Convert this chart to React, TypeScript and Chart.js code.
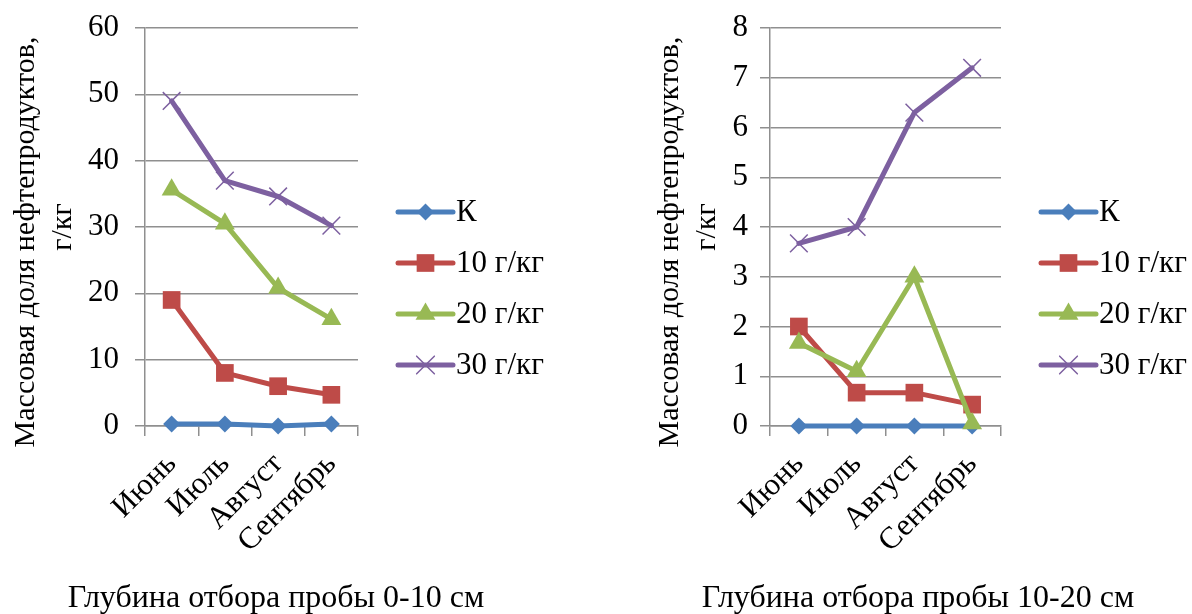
import React, { useEffect, useRef } from 'react';
import { Chart, registerables } from 'chart.js';

Chart.register(...registerables);

// ---- data ----
const months = ['Июнь', 'Июль', 'Август', 'Сентябрь'];
const seriesNames = ['К', '10 г/кг', '20 г/кг', '30 г/кг'];

const shallowK = [0.3, 0.3, 0, 0.3];
const shallow10 = [19, 8, 6, 4.7];
const shallow20 = [35.6, 30.5, 20.8, 16.1];
const shallow30 = [49, 37, 34.6, 30.2];

const deepK = [0, 0, 0, 0];
const deep10 = [2.0, 0.67, 0.67, 0.43];
const deep20 = [1.67, 1.1, 3.0, 0.05];
const deep30 = [3.67, 4.0, 6.3, 7.2];

const shallowMax = 60;
const shallowStep = 10;
const deepMax = 8;
const deepStep = 1;

const yTitleLines = ['Массовая доля нефтепродуктов,', 'г/кг'];
const shallowTitle = 'Глубина отбора пробы 0-10 см';
const deepTitle = 'Глубина отбора пробы 10-20 см';

// ---- styles ----
const COLORS = ['#4A7EBB', '#BE4B48', '#98B954', '#7D60A0'];
const MARKERS = ['rectRot', 'rect', 'triangle', 'crossRot'];
const RADII = [8.5, 12.5, 11.5, 12.5];
const FONT_FAMILY = "'Liberation Serif', 'Times New Roman', serif";
const FONT_SIZE = 31;
const GRID = '#8f8f8f';

function drawMarker(ctx: CanvasRenderingContext2D, style: string, x: number, y: number, r: number, color: string) {
  ctx.save();
  ctx.fillStyle = color;
  ctx.strokeStyle = color;
  ctx.beginPath();
  if (style === 'rectRot') {
    ctx.moveTo(x, y - r);
    ctx.lineTo(x + r, y);
    ctx.lineTo(x, y + r);
    ctx.lineTo(x - r, y);
    ctx.closePath();
    ctx.fill();
  } else if (style === 'rect') {
    const s = r * Math.SQRT1_2;
    ctx.rect(x - s, y - s, 2 * s, 2 * s);
    ctx.fill();
  } else if (style === 'triangle') {
    const c = Math.cos(Math.PI / 6) * r;
    ctx.moveTo(x, y - r);
    ctx.lineTo(x + c, y + r / 2);
    ctx.lineTo(x - c, y + r / 2);
    ctx.closePath();
    ctx.fill();
  } else {
    const c = r * Math.SQRT1_2;
    ctx.lineWidth = 1.5;
    ctx.moveTo(x - c, y - c);
    ctx.lineTo(x + c, y + c);
    ctx.moveTo(x + c, y - c);
    ctx.lineTo(x - c, y + c);
    ctx.stroke();
  }
  ctx.restore();
}

// legend at the right, rotated y-axis title and caption below
const decor = {
  id: 'decor',
  afterDraw(chart: any, _args: any, opts: any) {
    const { ctx, chartArea, width } = chart;
    // legend
    const x1 = chartArea.right + 40;
    const x2 = chartArea.right + 95;
    chart.data.datasets.forEach((ds: any, i: number) => {
      const y = chartArea.top + 184 + i * 51;
      ctx.save();
      ctx.strokeStyle = COLORS[i];
      ctx.lineWidth = 5;
      ctx.lineCap = 'round';
      ctx.beginPath();
      ctx.moveTo(x1, y);
      ctx.lineTo(x2, y);
      ctx.stroke();
      drawMarker(ctx, MARKERS[i], (x1 + x2) / 2, y, RADII[i], COLORS[i]);
      ctx.fillStyle = '#000';
      ctx.font = `${FONT_SIZE}px ${FONT_FAMILY}`;
      ctx.textBaseline = 'middle';
      ctx.textAlign = 'left';
      ctx.fillText(ds.label, chartArea.right + 98, y + 1);
      ctx.restore();
    });
    // y-axis title (two rotated lines)
    ctx.save();
    ctx.fillStyle = '#000';
    ctx.font = `30px ${FONT_FAMILY}`;
    ctx.textAlign = 'center';
    ctx.textBaseline = 'alphabetic';
    const mid = (chartArea.top + chartArea.bottom) / 2;
    ctx.save();
    ctx.translate(34, mid + 15);
    ctx.rotate(-Math.PI / 2);
    ctx.fillText(yTitleLines[0], 0, 0);
    ctx.restore();
    ctx.save();
    ctx.translate(71, mid);
    ctx.rotate(-Math.PI / 2);
    ctx.fillText(yTitleLines[1], 0, 0);
    ctx.restore();
    ctx.restore();
    // caption
    ctx.save();
    ctx.fillStyle = '#000';
    ctx.font = `32px ${FONT_FAMILY}`;
    ctx.textAlign = 'center';
    ctx.textBaseline = 'alphabetic';
    ctx.fillText(opts.caption, width / 2, 607);
    ctx.restore();
  },
};

function makeConfig(values: number[][], max: number, step: number, caption: string, yWidth: number, padRight: number, tickPad: number) {
  const font = { family: FONT_FAMILY, size: FONT_SIZE };
  return {
    type: 'line' as const,
    data: {
      labels: months,
      datasets: values.map((v, i) => ({
        label: seriesNames[i],
        data: v,
        borderColor: COLORS[i],
        backgroundColor: COLORS[i],
        borderWidth: 5,
        borderJoinStyle: 'round' as const,
        borderCapStyle: 'round' as const,
        pointStyle: MARKERS[i],
        pointRadius: RADII[i],
        pointHoverRadius: RADII[i],
        pointBorderWidth: i === 3 ? 1.5 : 0,
        pointBorderColor: COLORS[i],
        pointBackgroundColor: COLORS[i],
        tension: 0,
        clip: false as const,
        order: 3 - i,
      })),
    },
    options: {
      animation: false as const,
      responsive: false,
      maintainAspectRatio: false,
      events: [],
      layout: { padding: { left: 0, right: padRight, top: 28, bottom: 36 } },
      plugins: {
        legend: { display: false },
        tooltip: { enabled: false },
        title: { display: false },
        decor: { caption },
      },
      scales: {
        x: {
          offset: true,
          grid: { offset: true, drawOnChartArea: false, drawTicks: true, tickLength: 10, color: GRID, lineWidth: 1.5 },
          border: { display: true, color: GRID, width: 1.5 },
          ticks: { color: '#000', font, minRotation: 45, maxRotation: 45, padding: 10, autoSkip: false },
          afterFit: (s: any) => {
            s.height = 152;
            s.paddingLeft = 0;
            s.paddingRight = 0;
          },
        },
        y: {
          min: 0,
          max,
          grid: { color: GRID, lineWidth: 1.5, tickLength: 10 },
          border: { display: true, color: GRID, width: 1.5 },
          ticks: { color: '#000', font, stepSize: step, padding: tickPad },
          afterFit: (s: any) => {
            s.width = yWidth;
            s.paddingTop = 0;
            s.paddingBottom = 0;
          },
        },
      },
    },
    plugins: [decor],
  };
}

function ChartCanvas(props: { left: number; width: number; config: any }) {
  const ref = useRef<HTMLCanvasElement>(null);
  useEffect(() => {
    if (!ref.current) return;
    const chart = new Chart(ref.current, props.config);
    return () => chart.destroy();
  }, []);
  return (
    <canvas
      ref={ref}
      width={props.width}
      height={614}
      style={{ position: 'absolute', left: props.left, top: 0, width: props.width, height: 614 }}
    />
  );
}

export default function App() {
  const leftCfg = makeConfig([shallowK, shallow10, shallow20, shallow30], shallowMax, shallowStep, shallowTitle, 145, 194, 16);
  const rightCfg = makeConfig([deepK, deep10, deep20, deep30], deepMax, deepStep, deepTitle, 126, 191, 12);
  return (
    <div style={{ position: 'fixed', left: 0, top: 0, width: 1192, height: 614, background: '#fff', overflow: 'hidden' }}>
      <ChartCanvas left={0} width={552} config={leftCfg} />
      <ChartCanvas left={644} width={548} config={rightCfg} />
    </div>
  );
}
